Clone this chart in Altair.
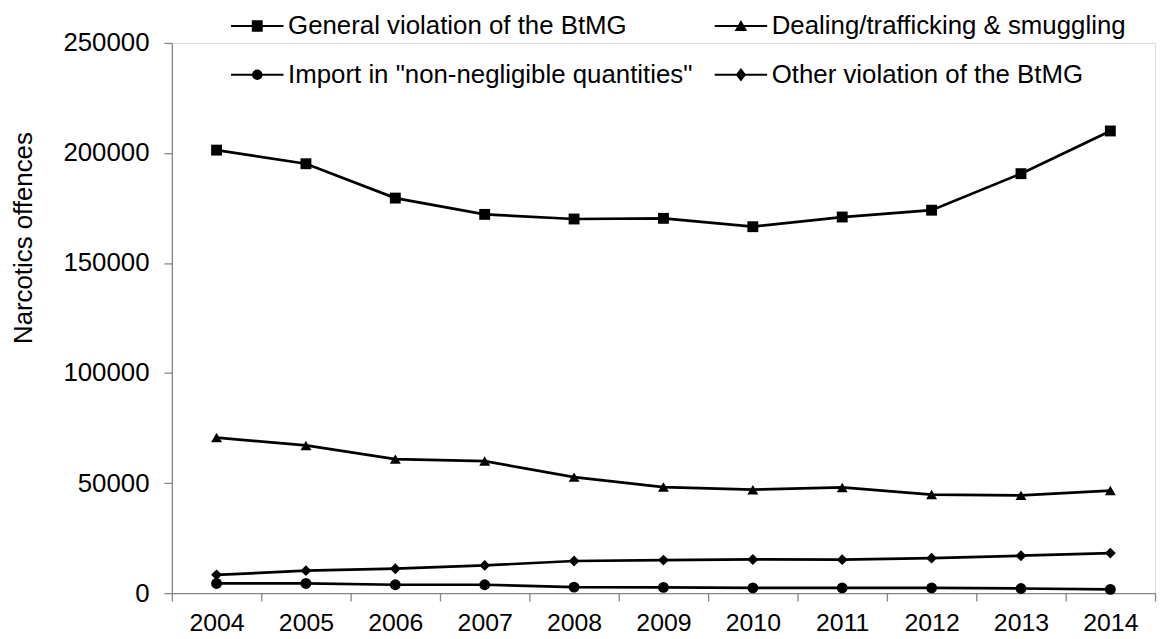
import altair as alt
import pandas as pd

years = ["2004", "2005", "2006", "2007", "2008", "2009", "2010", "2011", "2012", "2013", "2014"]
series = [
    "General violation of the BtMG",
    "Dealing/trafficking & smuggling",
    'Import in "non-negligible quantities"',
    "Other violation of the BtMG",
]
general = [201300, 195100, 179500, 172100, 170000, 170300, 166500, 170900, 174000, 190600, 210000]
dealing = [70700, 67100, 60900, 60000, 52700, 48200, 47000, 48000, 44800, 44400, 46600]
import_nn = [4400, 4400, 3800, 3800, 2700, 2600, 2400, 2400, 2400, 2100, 1700]
other = [8300, 10200, 11100, 12600, 14600, 15000, 15300, 15200, 15900, 17000, 18200]

rows = []
for name, vals in zip(series, [general, dealing, import_nn, other]):
    for yr, v in zip(years, vals):
        rows.append({"year": yr, "series": name, "value": v})
df = pd.DataFrame(rows)

FONT = "Liberation Sans"

x_enc = alt.X(
    "year:O",
    sort=years,
    bandPosition=0.5,
    scale=alt.Scale(type="band", paddingInner=0, paddingOuter=0),
    axis=alt.Axis(
        title=None, tickBand="extent", labelAngle=0, labelFont=FONT, labelFontSize=25,
        labelColor="black", domainColor="#868686", tickColor="#868686", tickSize=8,
        labelPadding=10, domainWidth=1.3, tickWidth=1.3,
    ),
)
y_enc = alt.Y(
    "value:Q",
    scale=alt.Scale(domain=[0, 250000], nice=False),
    axis=alt.Axis(
        title="Narcotics offences", values=[0, 50000, 100000, 150000, 200000, 250000],
        format="d", grid=False, labelFont=FONT, labelFontSize=26, labelColor="black",
        domainColor="#868686", tickColor="#868686", tickSize=8, labelPadding=15,
        domainWidth=1.3, tickWidth=1.3,
        titleFont=FONT, titleFontSize=26, titleFontWeight="normal", titleColor="black",
        titleX=-149, titleY=196, titleAlign="center", titleBaseline="middle", titleAngle=270,
    ),
)

lines = alt.Chart(df).mark_line(color="black", strokeWidth=2.75, interpolate="linear").encode(
    x=x_enc, y=y_enc, detail="series:N"
)

points = alt.Chart(df).mark_point(filled=True, color="black", size=120, opacity=1).encode(
    x=x_enc,
    y=y_enc,
    shape=alt.Shape(
        "series:N",
        scale=alt.Scale(domain=series, range=["square", "triangle-up", "circle", "diamond"]),
        legend=None,
    ),
)

# legend glyphs: a short line (drawn as a thin filled bar) with the marker on top
BAR = "M-4.8,-0.18H4.8V0.18H-4.8Z"
legend_paths = [
    BAR + "M-1,-1.05H1V1.05H-1Z",
    BAR + "M0,-1.1L1.15,0.9H-1.15Z",
    BAR + "M-0.95,0A0.95,0.95,0,1,1,0.95,0A0.95,0.95,0,1,1,-0.95,0Z",
    BAR + "M0,-1.25L0.95,0L0,1.25L-0.95,0Z",
]

legend_layer = alt.Chart(df).mark_point(
    filled=True, fill="black", opacity=1
).encode(
    x=x_enc,
    y=y_enc,
    shape=alt.Shape(
        "series:N",
        scale=alt.Scale(domain=series, range=legend_paths),
        legend=alt.Legend(
            title=None, orient="none", legendX=73, legendY=-30, columns=2,
            direction="horizontal",
            labelFont=FONT, labelFontSize=26, labelColor="black", labelLimit=800,
            symbolSize=121, symbolStrokeWidth=0, symbolFillColor="black", symbolOpacity=1,
            labelOffset=18, rowPadding=23, columnPadding=21,
        ),
    ),
).transform_filter("datum.value < 0")

chart = (
    alt.layer(lines, points, legend_layer)
    .resolve_scale(shape="independent")
    .properties(
        width=990, height=554,
        autosize=alt.AutoSizeParams(type="none"),
        padding={"left": 165, "top": 33, "right": 6, "bottom": 42},
    )
    .configure_view(stroke=None)
    .configure(background="white")
)

chart.save("out.html", embed_options={"renderer": "svg", "actions": False})
